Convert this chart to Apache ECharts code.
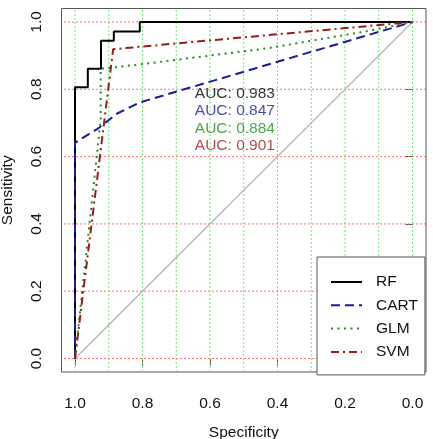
<!DOCTYPE html>
<html><head><meta charset="utf-8">
<script src="https://cdn.jsdelivr.net/npm/echarts@6/dist/echarts.min.js"></script>
<style>html,body{margin:0;padding:0;background:#fff}#c{width:433px;height:439px}</style>
</head><body><div id="c"></div>
<script>
// ---- data ----
const modelNames = ['RF', 'CART', 'GLM', 'SVM'];
const aucValues = [0.983, 0.847, 0.884, 0.901];
const rfSpec = [1, 1, 0.962, 0.962, 0.923, 0.923, 0.885, 0.885, 0.808, 0.808, 0];
const rfSens = [0, 0.806, 0.806, 0.861, 0.861, 0.944, 0.944, 0.972, 0.972, 1, 1];
const cartSpec = [1, 1, 0.931, 0.875, 0.808, 0];
const cartSens = [0, 0.641, 0.684, 0.728, 0.761, 1];
const glmSpec = [1, 0.924, 0.924, 0.822, 0.428, 0.132, 0];
const glmSens = [0, 0.709, 0.861, 0.872, 0.922, 0.973, 1];
const svmSpec = [1, 0.887, 0];
const svmSens = [0, 0.919, 1];
const chanceSpec = [1, 0];
const chanceSens = [0, 1];
const tickValues = [0, 0.2, 0.4, 0.6, 0.8, 1.0];
const vGridValues = [0, 0.1, 0.2, 0.3, 0.4, 0.5, 0.6, 0.7, 0.8, 0.9, 1.0];
const hGridValues = [0, 0.2, 0.4, 0.6, 0.8, 1.0];

const AX_MIN = -0.04, AX_MAX = 1.04;
const zip = (a, b) => a.map((v, i) => [v, b[i]]);
const colors = ['#000000', '#1c1c96', '#228B22', '#961c1c'];
const dashes = ['solid', [9, 5], [2, 4.5], [8, 4, 2, 4]];
const curves = [zip(rfSpec, rfSens), zip(cartSpec, cartSens), zip(glmSpec, glmSens), zip(svmSpec, svmSens)];
const FONT = '"Liberation Sans", Arial, sans-serif';
const FS = 15.5;

const chart = echarts.init(document.getElementById('c'), null, {renderer: 'canvas'});
const series = [];
vGridValues.forEach(v => series.push({
  type: 'line', name: 'vgrid', data: [[v, AX_MIN], [v, AX_MAX]], symbol: 'none', silent: true, z: 1,
  lineStyle: {color: '#6fe66f', width: 1, type: [2, 2]}
}));
hGridValues.forEach(v => series.push({
  type: 'line', name: 'hgrid', data: [[AX_MIN, v], [AX_MAX, v]], symbol: 'none', silent: true, z: 1,
  lineStyle: {color: '#ff7070', width: 1, type: [2, 2]}
}));
series.push({
  type: 'line', name: 'chance', data: zip(chanceSpec, chanceSens), symbol: 'none', silent: true, z: 2,
  lineStyle: {color: '#b4b4b4', width: 1.2}
});
modelNames.forEach((n, i) => {
  series.push({
    type: 'line', name: n, data: curves[i], symbol: 'none', showSymbol: false, z: 3 + i,
    lineStyle: {color: colors[i], width: 2, type: dashes[i]},
    itemStyle: {color: colors[i]}
  });
});
const aucLabelY = [0.787, 0.735, 0.684, 0.631];
series.push({
  type: 'scatter', name: 'auc', symbolSize: 0, itemStyle: {color: 'rgba(0,0,0,0)'}, z: 10, silent: true,
  data: aucValues.map((v, i) => ({
    value: [0.645, aucLabelY[i]],
    label: {show: true, position: [0, 0], align: 'left', verticalAlign: 'middle',
      formatter: 'AUC: ' + v.toFixed(3), color: colors[i], fontSize: FS, fontFamily: FONT}
  }))
});

chart.setOption({
  animation: false,
  backgroundColor: '#fff',
  grid: {left: 61.5, top: 8.5, width: 364.5, height: 363.5, outerBoundsMode: 'none', containLabel: false,
    show: true, borderColor: '#555', borderWidth: 1, backgroundColor: 'transparent'},
  xAxis: {
    type: 'value', min: AX_MIN, max: AX_MAX, inverse: true,
    name: 'Specificity', nameLocation: 'middle', nameGap: 53,
    nameTextStyle: {fontSize: FS, fontFamily: FONT, color: '#111'},
    axisLine: {show: false}, splitLine: {show: false},
    axisTick: {show: true, customValues: tickValues, length: 7, lineStyle: {color: '#555'}},
    axisLabel: {show: true, customValues: tickValues, margin: 24, fontSize: FS, fontFamily: FONT, color: '#111',
      formatter: v => v.toFixed(1)}
  },
  yAxis: {
    type: 'value', min: AX_MIN, max: AX_MAX,
    name: 'Sensitivity', nameLocation: 'middle', nameGap: 45.5,
    nameTextStyle: {fontSize: FS, fontFamily: FONT, color: '#111'},
    axisLine: {show: false}, splitLine: {show: false},
    axisTick: {show: true, customValues: tickValues, length: 7, lineStyle: {color: '#555'}},
    axisLabel: {show: true, customValues: tickValues, margin: 16.5, rotate: 90, fontSize: FS, fontFamily: FONT, color: '#111',
      formatter: v => v.toFixed(1)}
  },
  legend: {
    data: modelNames, orient: 'vertical', left: 317, top: 257,
    padding: [17, 7, 15, 13], itemGap: 7.3, itemWidth: 31, itemHeight: 14,
    itemStyle: {opacity: 0, borderWidth: 0},
    backgroundColor: '#fff', borderColor: '#555', borderWidth: 1, borderRadius: 0,
    textStyle: {fontSize: FS, fontFamily: FONT, color: '#111', padding: [0, 0, 0, 9]},
    selectedMode: false, z: 20
  },
  series: series
});
</script></body></html>
